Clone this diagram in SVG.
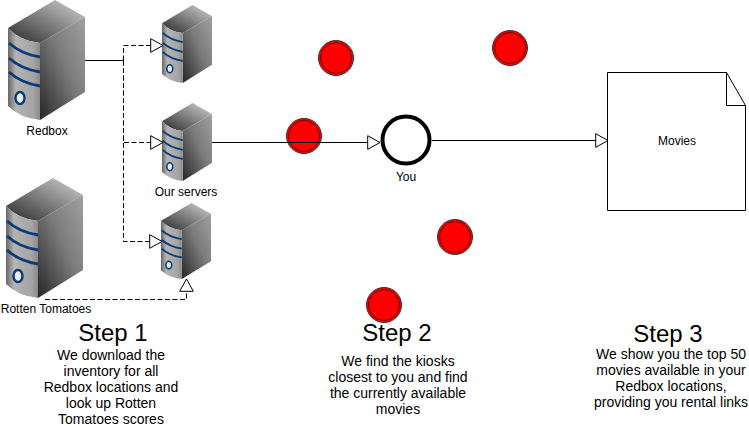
<svg xmlns="http://www.w3.org/2000/svg" xmlns:xlink="http://www.w3.org/1999/xlink" width="749" height="426" viewBox="0 0 749 426">
<style>
text{font-family:"Liberation Sans",Arial,sans-serif;fill:#000;text-anchor:middle}
.lbl{font-size:12px}
.h{font-size:24px}
.b{font-size:14px}
.ln{fill:none;stroke:#000;stroke-width:1}
.d{stroke-dasharray:5 2.500}
.kiosk{fill:#f00;stroke:#333;stroke-width:1}
.kr{fill:none;stroke:#600;stroke-width:1}
.band{fill:none;stroke:#0a3a78;stroke-width:2.800}
</style>
<defs>
<linearGradient id="top" x1="0" y1="1" x2="1" y2="0"><stop offset="0" stop-color="#2a2a2a"/><stop offset="1" stop-color="#d4d4d4"/></linearGradient>
<linearGradient id="side" x1="0" y1="1" x2="1" y2="0"><stop offset="0" stop-color="#262626"/><stop offset=".55" stop-color="#7c7c7c"/><stop offset="1" stop-color="#a0a0a0"/></linearGradient>
<linearGradient id="front" x1="0" y1="0" x2="1" y2="0"><stop offset="0" stop-color="#666"/><stop offset=".25" stop-color="#b4b4b4"/><stop offset=".8" stop-color="#a4a4a4"/><stop offset="1" stop-color="#8a8a8a"/></linearGradient>
<symbol id="srv" viewBox="0 0 77 120" preserveAspectRatio="none" overflow="visible">
<path d="M0 28 L47 0 L77 17 L32 43 Q12 41 0 28Z" fill="url(#top)"/>
<path d="M32 43 L77 17 V92 L32 120Z" fill="url(#side)"/>
<path d="M0 28 Q12 41 32 43 V120 Q12 118 0 106Z" fill="url(#front)"/>
<path class="band" d="M1 43 Q13 54 32 57"/>
<path class="band" d="M1 58 Q13 69 32 72"/>
<path class="band" d="M1 72 Q13 83 32 86"/>
<ellipse cx="12" cy="98" rx="4.500" ry="6" fill="#e8eef5" stroke="#0a3a78" stroke-width="2.400"/>
</symbol>
<marker id="tri" markerUnits="userSpaceOnUse" markerWidth="16" markerHeight="16" refX="13" refY="7.500" orient="auto" overflow="visible"><path d="M0.700 0.700 L13 7.500 L0.700 14.300Z" fill="#fff" stroke="#000" stroke-width="1"/></marker>
</defs>
<g id="redbox"><use xlink:href="#srv" href="#srv" x="8" y="0" width="77" height="120"/><text class="lbl" x="47" y="135">Redbox</text></g>
<g id="rotten-tomatoes"><use xlink:href="#srv" href="#srv" x="6" y="178" width="77" height="120"/><text class="lbl" x="46" y="313">Rotten Tomatoes</text></g>
<g id="server-a"><use xlink:href="#srv" href="#srv" x="162" y="5" width="50" height="78"/></g>
<g id="our-servers"><use xlink:href="#srv" href="#srv" x="162" y="103" width="50" height="78"/><text class="lbl" x="186" y="196">Our servers</text></g>
<g id="server-c"><use xlink:href="#srv" href="#srv" x="161" y="203" width="50" height="76"/></g>
<g id="kiosk-1"><circle class="kiosk" cx="336" cy="58" r="17.500"/><circle class="kr" cx="336" cy="58" r="15.500"/></g>
<g id="kiosk-2"><circle class="kiosk" cx="510" cy="48" r="17.500"/><circle class="kr" cx="510" cy="48" r="15.500"/></g>
<g id="kiosk-3"><circle class="kiosk" cx="304" cy="136" r="17.500"/><circle class="kr" cx="304" cy="136" r="15.500"/></g>
<g id="kiosk-4"><circle class="kiosk" cx="455" cy="237" r="17.500"/><circle class="kr" cx="455" cy="237" r="15.500"/></g>
<g id="kiosk-5"><circle class="kiosk" cx="384" cy="305" r="17.500"/><circle class="kr" cx="384" cy="305" r="15.500"/></g>
<g id="you"><circle cx="406" cy="140" r="23.500" fill="#fff" stroke="#000" stroke-width="4"/><text class="lbl" x="406" y="181">You</text></g>
<g id="movies"><path d="M607.500 72.500H726.500L745.500 105.500V210.500H607.500Z" fill="#fff" stroke="#000" stroke-width="1"/><path d="M726.500 72.500V105.500H745.500" fill="none" stroke="#000" stroke-width="1"/><text class="lbl" x="677" y="145">Movies</text></g>
<g id="connectors">
<path class="ln" d="M85 60.500H124"/>
<path class="ln d" d="M123.500 60.500V45.500H163" marker-end="url(#tri)"/>
<path class="ln d" d="M123.500 60.500V142.500H163" marker-end="url(#tri)"/>
<path class="ln d" d="M123.500 60.500V241.500H162" marker-end="url(#tri)"/>
<path class="ln d" d="M45 299.500H186.500V279" marker-end="url(#tri)"/>
<path class="ln" d="M212 142.500H380" marker-end="url(#tri)"/>
<path class="ln" d="M432 140.500H608" marker-end="url(#tri)"/>
</g>
<g id="step-1"><text class="h" x="113" y="341">Step 1</text><text class="b" x="111" y="360">We download the</text><text class="b" x="111" y="376">inventory for all</text><text class="b" x="111" y="392">Redbox locations and</text><text class="b" x="111" y="408">look up Rotten</text><text class="b" x="111" y="424">Tomatoes scores</text></g>
<g id="step-2"><text class="h" x="397" y="341">Step 2</text><text class="b" x="398" y="366">We find the kiosks</text><text class="b" x="398" y="382">closest to you and find</text><text class="b" x="398" y="398">the currently available</text><text class="b" x="398" y="414">movies</text></g>
<g id="step-3"><text class="h" x="668" y="342">Step 3</text><text class="b" x="671" y="359">We show you the top 50</text><text class="b" x="671" y="375">movies available in your</text><text class="b" x="671" y="391">Redbox locations,</text><text class="b" x="671" y="407">providing you rental links</text></g>
</svg>
